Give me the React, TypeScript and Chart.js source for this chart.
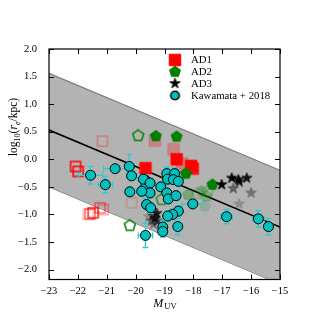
import React, { useEffect, useRef } from "react";
import { Chart, registerables } from "chart.js";
Chart.register(...registerables);

// ---------- axes ----------
const X_MIN = -23;
const X_MAX = -15;
const Y_MIN = -2.18;
const Y_MAX = 2.0;
const xTicks = [-23, -22, -21, -20, -19, -18, -17, -16, -15];
const yTicks = [2.0, 1.5, 1.0, 0.5, 0.0, -0.5, -1.0, -1.5, -2.0];

// ---------- size-luminosity fit ----------
const fitX = [-23, -15];
const fitIntercept = 0.53; // value at M = -23
const fitSlope = -0.22;
const bandHalfWidth = 1.03;

// ---------- Kawamata + 2018 ----------
const kawX = [-21.56, -21.05, -20.71, -20.22, -20.14, -20.2, -19.66, -19.64, -19.73, -19.5, -19.5, -19.62, -19.48, -19.66, -19.13, -18.92, -18.89, -18.65, -18.69, -18.52, -18.92, -18.87, -18.6, -19.79, -18.52, -18.72, -18.89, -18.54, -19.06, -19.06, -18.02, -16.85, -15.75, -15.4];
const kawY = [-0.29, -0.46, -0.17, -0.13, -0.3, -0.59, -0.38, -0.46, -0.36, -0.43, -0.61, -0.82, -0.88, -1.38, -0.5, -0.26, -0.36, -0.26, -0.37, -0.4, -0.61, -0.72, -0.66, -0.58, -0.94, -1.0, -1.03, -1.22, -1.23, -1.31, -0.81, -1.04, -1.08, -1.22];
const kawXErr = [0.42, 0.25, 0.4, 0.15, 0.15, 0.1, 0.15, 0.15, 0.2, 0.15, 0.15, 0.12, 0.12, 0.25, 0.15, 0.15, 0.15, 0.15, 0.15, 0.12, 0.15, 0.12, 0.15, 0.15, 0.12, 0.12, 0.12, 0.12, 0.15, 0.15, 0.37, 0.2, 0.2, 0.15];
const kawYErr = [0.16, 0.15, 0.05, 0.22, 0.08, 0.08, 0.1, 0.1, 0.08, 0.08, 0.1, 0.1, 0.1, 0.22, 0.08, 0.12, 0.1, 0.1, 0.08, 0.08, 0.08, 0.08, 0.08, 0.1, 0.1, 0.1, 0.1, 0.15, 0.12, 0.1, 0.05, 0.13, 0.15, 0.15];

// ---------- AD1 (squares) ----------
const ad1X = [-19.66, -18.58, -18.08, -18.02, -19.33, -18.69, -18.4, -22.08, -21.99, -21.47, -21.58, -21.23, -21.12, -21.64, -21.15, -20.14];
const ad1Y = [-0.16, 0.0, -0.12, -0.17, 0.34, 0.18, -0.08, -0.13, -0.22, -0.97, -0.99, -0.88, -0.91, -1.0, 0.33, -0.79];
const ad1Alpha = [1, 1, 1, 0.9, 0.25, 0.25, 0.3, 1, 1, 0.9, 0.6, 0.5, 0.4, 0.3, 0.3, 0.2];
const ad1Hollow = [0, 0, 0, 0, 0, 0, 0, 1, 1, 1, 1, 1, 1, 1, 1, 1];

// ---------- AD2 (pentagons) ----------
const ad2X = [-19.3, -18.58, -18.26, -17.34, -19.91, -20.2, -19.1, -18.18, -17.71, -17.54, -17.6, -17.85, -17.5];
const ad2Y = [0.42, 0.41, -0.26, -0.46, 0.43, -1.2, -0.73, -0.64, -0.58, -0.67, -0.85, -0.62, -0.58];
const ad2Alpha = [1, 1, 1, 1, 1, 1, 0.8, 0.3, 0.3, 0.25, 0.15, 0.25, 0.3];
const ad2Hollow = [0, 0, 0, 0, 1, 1, 1, 0, 0, 0, 0, 1, 1];

// ---------- AD3 (stars) ----------
const ad3X = [-17.02, -16.67, -16.44, -16.15, -16.41, -16.62, -16.0, -16.42, -19.27, -19.33, -19.25, -19.45, -19.38, -19.55, -19.4];
const ad3Y = [-0.46, -0.34, -0.37, -0.34, -0.41, -0.53, -0.61, -0.81, -0.98, -1.07, -1.12, -1.12, -1.18, -1.04, -1.02];
const ad3Alpha = [1, 1, 0.9, 0.9, 0.8, 0.45, 0.35, 0.2, 0.8, 0.7, 0.6, 0.4, 0.3, 0.2, 0.5];

const legendLabels = ["AD1", "AD2", "AD3", "Kawamata + 2018"];

const SERIF = '"Liberation Serif", "DejaVu Serif", serif';
const CYAN = "#00bfbf";
const CYAN_ERR = "#2ccccc";

type Shape = "square" | "pentagon" | "star" | "circle";
const markerCache = new Map<string, HTMLCanvasElement>();
function marker(shape: Shape, size: number, fill: string | null, stroke: string | null, lw: number, alpha: number): HTMLCanvasElement {
  const key = [shape, size, fill, stroke, lw, alpha].join("|");
  const hit = markerCache.get(key);
  if (hit) return hit;
  const pad = Math.ceil(lw) + 2;
  const dim = Math.ceil(size + 2 * pad);
  const c = document.createElement("canvas");
  c.width = dim;
  c.height = dim;
  const g = c.getContext("2d")!;
  g.globalAlpha = alpha;
  g.translate(dim / 2, dim / 2);
  g.beginPath();
  const r = size / 2;
  if (shape === "square") {
    g.rect(-r, -r, size, size);
  } else if (shape === "pentagon") {
    for (let i = 0; i < 5; i++) {
      const a = -Math.PI / 2 + (i * 2 * Math.PI) / 5;
      const px = r * Math.cos(a);
      const py = r * Math.sin(a);
      if (i === 0) g.moveTo(px, py);
      else g.lineTo(px, py);
    }
  } else if (shape === "star") {
    const ri = r * 0.382;
    for (let i = 0; i < 10; i++) {
      const a = -Math.PI / 2 + (i * Math.PI) / 5;
      const rr = i % 2 === 0 ? r : ri;
      const px = rr * Math.cos(a);
      const py = rr * Math.sin(a);
      if (i === 0) g.moveTo(px, py);
      else g.lineTo(px, py);
    }
  } else {
    g.arc(0, 0, r, 0, Math.PI * 2);
  }
  g.closePath();
  if (fill) {
    g.fillStyle = fill;
    g.fill();
  }
  if (stroke && lw > 0) {
    g.lineWidth = lw;
    g.strokeStyle = stroke;
    g.lineJoin = "miter";
    g.stroke();
  }
  markerCache.set(key, c);
  return c;
}

const squareMarker = (alpha: number, hollow: number) =>
  hollow ? marker("square", 10, null, "#ff0000", 1.5, alpha) : marker("square", 11.5, "#ff0000", "#ff0000", 1, alpha);
const pentMarker = (alpha: number, hollow: number) =>
  hollow ? marker("pentagon", 11.5, null, "#008000", 1.5, alpha) : marker("pentagon", 11.5, "#008000", "#008000", 1, alpha);
const starMarker = (alpha: number) => marker("star", 11, "#000000", "#000000", 0.8, alpha);

const fmt = (v: number, digits: number) => v.toFixed(digits).replace("-", "\u2212");

const framePlugin = {
  id: "frameTicksTitles",
  beforeDatasetDraw(chart: any, args: any) {
    const ds = chart.data.datasets[args.index];
    if (ds.label !== "Kawamata + 2018") return;
    const xs = chart.scales.x;
    const ys = chart.scales.y;
    const ctx = chart.ctx;
    ctx.save();
    ctx.strokeStyle = CYAN_ERR;
    ctx.lineWidth = 1.3;
    const cap = 3;
    for (let i = 0; i < kawX.length; i++) {
      const cx = xs.getPixelForValue(kawX[i]);
      const cy = ys.getPixelForValue(kawY[i]);
      const x0 = xs.getPixelForValue(kawX[i] - kawXErr[i]);
      const x1 = xs.getPixelForValue(kawX[i] + kawXErr[i]);
      const y0 = ys.getPixelForValue(kawY[i] - kawYErr[i]);
      const y1 = ys.getPixelForValue(kawY[i] + kawYErr[i]);
      ctx.beginPath();
      ctx.moveTo(x0, cy);
      ctx.lineTo(x1, cy);
      ctx.moveTo(x0, cy - cap);
      ctx.lineTo(x0, cy + cap);
      ctx.moveTo(x1, cy - cap);
      ctx.lineTo(x1, cy + cap);
      ctx.moveTo(cx, y0);
      ctx.lineTo(cx, y1);
      ctx.moveTo(cx - cap, y0);
      ctx.lineTo(cx + cap, y0);
      ctx.moveTo(cx - cap, y1);
      ctx.lineTo(cx + cap, y1);
      ctx.stroke();
    }
    ctx.restore();
  },
  afterDraw(chart: any) {
    const ctx = chart.ctx;
    const a = chart.chartArea;
    const xs = chart.scales.x;
    const ys = chart.scales.y;
    ctx.save();
    // ticks, inward on all four sides
    ctx.strokeStyle = "#000";
    ctx.lineWidth = 1;
    const tl = 5;
    ctx.beginPath();
    for (const v of xTicks) {
      const px = Math.round(xs.getPixelForValue(v)) + 0.5;
      ctx.moveTo(px, a.bottom);
      ctx.lineTo(px, a.bottom - tl);
      ctx.moveTo(px, a.top);
      ctx.lineTo(px, a.top + tl);
    }
    for (const v of yTicks) {
      const py = Math.round(ys.getPixelForValue(v)) + 0.5;
      ctx.moveTo(a.left, py);
      ctx.lineTo(a.left + tl, py);
      ctx.moveTo(a.right, py);
      ctx.lineTo(a.right - tl, py);
    }
    ctx.stroke();
    ctx.lineWidth = 1.2;
    ctx.strokeRect(a.left, a.top, a.right - a.left, a.bottom - a.top);

    // legend
    const lx = 175;
    const tx = 191;
    const rows = [60, 71.8, 83.5, 95.5];
    const qm = squareMarker(1, 0);
    ctx.drawImage(qm, lx - qm.width / 2, rows[0] - qm.height / 2);
    const pm = pentMarker(1, 0);
    ctx.drawImage(pm, lx - pm.width / 2, rows[1] - pm.height / 2);
    const sm = starMarker(1);
    ctx.drawImage(sm, lx - sm.width / 2, rows[2] - sm.height / 2);
    const cm = marker("circle", 8.5, CYAN, "#000", 1.6, 1);
    ctx.drawImage(cm, lx - cm.width / 2, rows[3] - cm.height / 2);
    ctx.fillStyle = "#000";
    ctx.font = `10.8px ${SERIF}`;
    ctx.textBaseline = "middle";
    ctx.textAlign = "left";
    legendLabels.forEach((t, i) => ctx.fillText(t, tx, rows[i] + 0.5));

    // x title: M_UV
    const xMain = "M";
    const xSub = "UV";
    ctx.font = `italic 12px ${SERIF}`;
    const wM = ctx.measureText(xMain).width;
    ctx.font = `8.5px ${SERIF}`;
    const wS = ctx.measureText(xSub).width;
    const xc = 165;
    const yb = 307;
    const x0 = xc - (wM + wS + 1) / 2;
    ctx.textBaseline = "alphabetic";
    ctx.font = `italic 12px ${SERIF}`;
    ctx.fillText(xMain, x0, yb);
    ctx.font = `8.5px ${SERIF}`;
    ctx.fillText(xSub, x0 + wM + 1, yb + 2);

    // y title: log10(re/kpc)
    const parts: [string, boolean, boolean][] = [
      ["log", false, false],
      ["10", true, false],
      ["(", false, false],
      ["r", false, true],
      ["e", true, true],
      ["/kpc)", false, false],
    ];
    const mainFont = (it: boolean) => `${it ? "italic " : ""}11.5px ${SERIF}`;
    const subFont = (it: boolean) => `${it ? "italic " : ""}8px ${SERIF}`;
    let total = 0;
    const widths = parts.map(([t, sub, it]) => {
      ctx.font = sub ? subFont(it) : mainFont(it);
      const w = ctx.measureText(t).width;
      total += w;
      return w;
    });
    ctx.translate(17, 127);
    ctx.rotate(-Math.PI / 2);
    let cx = -total / 2;
    parts.forEach(([t, sub, it], i) => {
      ctx.font = sub ? subFont(it) : mainFont(it);
      ctx.fillText(t, cx, sub ? 2.5 : 0);
      cx += widths[i];
    });
    ctx.restore();
  },
};

export default function App() {
  const ref = useRef<HTMLCanvasElement | null>(null);
  useEffect(() => {
    if (!ref.current) return;
    const fitY = fitX.map((x) => fitIntercept + fitSlope * (x - fitX[0]));
    const upper = fitX.map((x, i) => ({ x, y: fitY[i] + bandHalfWidth }));
    const lower = fitX.map((x, i) => ({ x, y: fitY[i] - bandHalfWidth }));
    const fitLine = fitX.map((x, i) => ({ x, y: fitY[i] }));

    const chart = new Chart(ref.current, {
      type: "scatter",
      data: {
        datasets: [
          {
            label: "Kawamata + 2018",
            data: kawX.map((x, i) => ({ x, y: kawY[i] })),
            pointStyle: "circle",
            pointRadius: 5,
            pointBackgroundColor: CYAN,
            pointBorderColor: "#000",
            pointBorderWidth: 1,
            order: 0,
          } as any,
          {
            label: "AD3",
            data: ad3X.map((x, i) => ({ x, y: ad3Y[i] })),
            pointRadius: 5,
            pointStyle: (c: any) => starMarker(ad3Alpha[c.dataIndex] ?? 1),
            order: 1,
          } as any,
          {
            label: "AD2",
            data: ad2X.map((x, i) => ({ x, y: ad2Y[i] })),
            pointRadius: 5,
            pointStyle: (c: any) => pentMarker(ad2Alpha[c.dataIndex] ?? 1, ad2Hollow[c.dataIndex] ?? 0),
            order: 2,
          } as any,
          {
            label: "AD1",
            data: ad1X.map((x, i) => ({ x, y: ad1Y[i] })),
            pointRadius: 5,
            pointStyle: (c: any) => squareMarker(ad1Alpha[c.dataIndex] ?? 1, ad1Hollow[c.dataIndex] ?? 0),
            order: 3,
          } as any,
          {
            label: "fit",
            data: fitLine,
            showLine: true,
            pointRadius: 0,
            borderColor: "#000",
            borderWidth: 1.6,
            order: 4,
          } as any,
          {
            label: "upper",
            data: upper,
            showLine: true,
            pointRadius: 0,
            borderColor: "#7a7a7a",
            borderWidth: 1.2,
            backgroundColor: "#b3b3b3",
            fill: "+1",
            order: 5,
          } as any,
          {
            label: "lower",
            data: lower,
            showLine: true,
            pointRadius: 0,
            borderColor: "#7a7a7a",
            borderWidth: 1.2,
            fill: false,
            order: 6,
          } as any,
        ],
      },
      options: {
        responsive: false,
        animation: false,
        devicePixelRatio: 1,
        layout: { padding: { left: 0, top: 49, right: 50, bottom: 0 } },
        plugins: { legend: { display: false }, tooltip: { enabled: false } },
        scales: {
          x: {
            type: "linear",
            min: X_MIN,
            max: X_MAX,
            afterBuildTicks: (s: any) => {
              s.ticks = xTicks.map((v) => ({ value: v }));
            },
            afterFit: (s: any) => {
              s.height = 50.5;
            },
            grid: { display: false, drawTicks: false },
            border: { display: false },
            ticks: {
              padding: 5,
              color: "#000",
              font: { family: SERIF, size: 10.5 },
              callback: (v: any) => fmt(Number(v), 0),
            },
          },
          y: {
            type: "linear",
            min: Y_MIN,
            max: Y_MAX,
            afterBuildTicks: (s: any) => {
              s.ticks = yTicks.map((v) => ({ value: v }));
            },
            afterFit: (s: any) => {
              s.width = 49;
            },
            grid: { display: false, drawTicks: false },
            border: { display: false },
            ticks: {
              padding: 12,
              color: "#000",
              font: { family: SERIF, size: 10.5 },
              callback: (v: any) => fmt(Number(v), 1),
            },
          },
        },
      } as any,
      plugins: [framePlugin],
    });
    return () => chart.destroy();
  }, []);

  return (
    <div style={{ position: "absolute", left: 0, top: 0, width: 330, height: 330, background: "#fff" }}>
      <canvas ref={ref} width={330} height={330} style={{ display: "block" }} />
    </div>
  );
}
